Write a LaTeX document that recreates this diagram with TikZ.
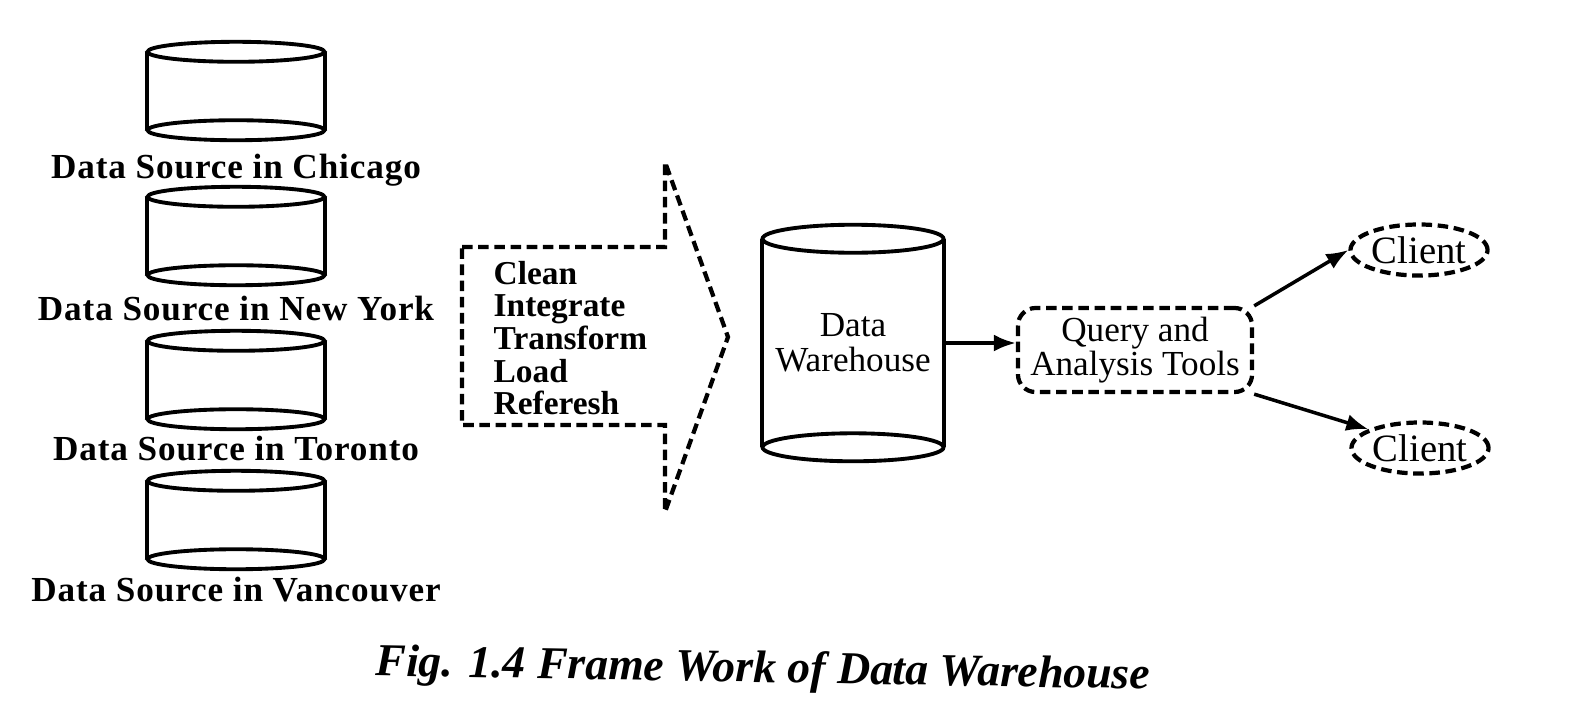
\documentclass[tikz,border=0pt]{standalone}
\usepackage{fontspec}
\setmainfont{Liberation Serif}
\newfontfamily\srcfont[LetterSpace=2.5]{Liberation Serif}
\usetikzlibrary{positioning,arrows.meta,shapes.geometric}

\begin{document}
\begin{tikzpicture}[
  x=0.01cm, y=-0.01cm, >={Latex[length=2.2mm,width=1.7mm]},
  drum/.style={minimum width=1.77cm,minimum height=0.77cm,inner sep=0pt},
  drumline/.style={line width=1.1pt,black},
  srclabel/.style={font=\srcfont\fontsize{10}{12}\selectfont\bfseries,inner sep=0pt},
  dashline/.style={line width=1.2pt,dash pattern=on 3pt off 1.6pt},
  etltext/.style={anchor=west,align=left,inner sep=0pt,font=\fontsize{9.5}{9.3}\selectfont\bfseries},
  qbox/.style={dashline,draw,rounded corners=5pt,minimum width=2.34cm,minimum height=0.84cm,
               align=center,inner sep=2pt,font=\fontsize{10}{9.8}\selectfont},
  clnt/.style={dashline,draw,ellipse,minimum width=1.37cm,minimum height=0.51cm,inner sep=0pt,
               font=\fontsize{11}{12}\selectfont},
  k/.style={->,line width=1pt},
]
\useasboundingbox (0,0) rectangle (1592,702);

% sources
\node[drum] (chi) at (236,91)  {};
\node[drum] (nyk) at (236,236) {};
\node[drum] (tor) at (236,380) {};
\node[drum] (van) at (236,520) {};
\node[srclabel] (chil) at (236,170) {Data Source in Chicago};
\node[srclabel] (nykl) at (236,308) {Data Source in New York};
\node[srclabel] (torl) at (236,448) {Data Source in Toronto};
\node[srclabel] (vanl) at (236,590) {Data Source in Vancouver};

% warehouse
\node[drum,minimum width=1.81cm,minimum height=2.07cm,align=center,
      font=\fontsize{10}{10}\selectfont] (dwh) at (853,343) {Data\\Warehouse};

\foreach \c/\rx/\ry in {chi/88.5/10,nyk/88.5/10,tor/88.5/10,van/88.5/10,dwh/90.5/14} {
  \draw[drumline] (\c.north west) -- (\c.south west) (\c.north east) -- (\c.south east);
  \draw[drumline] (\c.north) ellipse[x radius=\rx,y radius=\ry];
  \draw[drumline] (\c.south) ellipse[x radius=\rx,y radius=\ry];
}

% ETL arrow
\node[etltext] (etl) at (493,338) {Clean\\Integrate\\Transform\\Load\\Referesh};
\draw[dashline] (462,247) -- (665,247) -- (665,162) -- (728,337) -- (665,512)
  -- (665,425) -- (462,425) -- cycle;

% query tools and clients
\node[qbox] (qry) at (1135,350) {Query and\\Analysis Tools};
\node[clnt] (cl1) at (1419,250) {Client};
\node[clnt] (cl2) at (1420,448) {Client};

\draw[k] (dwh.east) -- (dwh.east -| qry.west);
\draw[k] (qry.north east) -- (cl1.west);
\draw[k] (qry.south east) -- (cl2.160);

\node[font=\fontsize{13}{15}\selectfont\bfseries\itshape,rotate=-1] (cap) at (763,671)
  {Fig. 1.4 Frame Work of Data Warehouse};
\end{tikzpicture}
\end{document}
